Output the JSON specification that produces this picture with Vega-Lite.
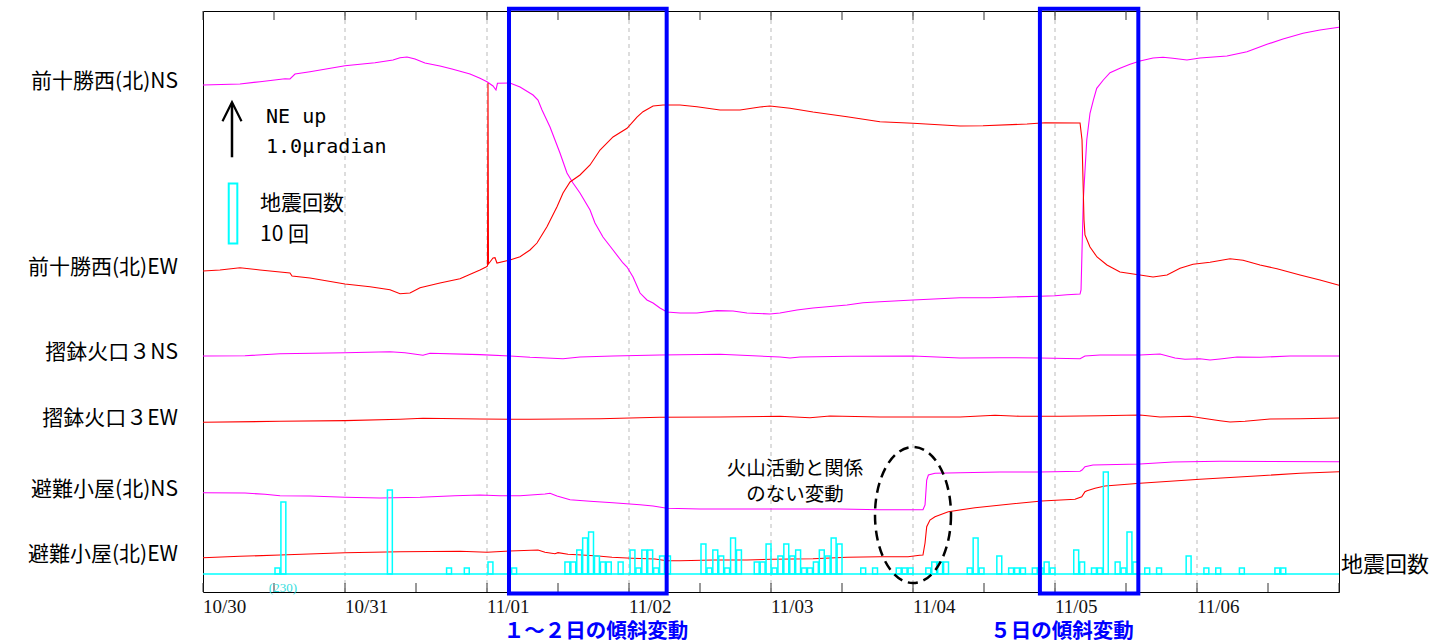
{
  "$schema": "https://vega.github.io/schema/vega-lite/v6.json",
  "width": 1136,
  "height": 581,
  "autosize": {"type": "none"},
  "padding": {"left": 203, "top": 11, "right": 106, "bottom": 52},
  "background": "white",
  "config": {
    "font": "Noto Sans CJK JP",
    "view": {"stroke": "black", "strokeWidth": 1, "fill": "white"}
  },
  "data": {"values": [{}]},
  "datasets": {
    "tilt": [
      {"s": "前十勝西(北)NS", "t": "2020-10-30T00:00", "v": 9.218},
      {"s": "前十勝西(北)NS", "t": "2020-10-30T06:15", "v": 9.236},
      {"s": "前十勝西(北)NS", "t": "2020-10-30T09:38", "v": 9.278},
      {"s": "前十勝西(北)NS", "t": "2020-10-30T13:52", "v": 9.333},
      {"s": "前十勝西(北)NS", "t": "2020-10-30T14:42", "v": 9.327},
      {"s": "前十勝西(北)NS", "t": "2020-10-30T15:33", "v": 9.418},
      {"s": "前十勝西(北)NS", "t": "2020-10-30T18:05", "v": 9.460},
      {"s": "前十勝西(北)NS", "t": "2020-10-31T00:00", "v": 9.569},
      {"s": "前十勝西(北)NS", "t": "2020-10-31T05:04", "v": 9.624},
      {"s": "前十勝西(北)NS", "t": "2020-10-31T08:07", "v": 9.673},
      {"s": "前十勝西(北)NS", "t": "2020-10-31T09:18", "v": 9.715},
      {"s": "前十勝西(北)NS", "t": "2020-10-31T10:29", "v": 9.727},
      {"s": "前十勝西(北)NS", "t": "2020-10-31T11:50", "v": 9.691},
      {"s": "前十勝西(北)NS", "t": "2020-10-31T13:31", "v": 9.618},
      {"s": "前十勝西(北)NS", "t": "2020-10-31T16:03", "v": 9.564},
      {"s": "前十勝西(北)NS", "t": "2020-10-31T18:05", "v": 9.509},
      {"s": "前十勝西(北)NS", "t": "2020-10-31T21:08", "v": 9.418},
      {"s": "前十勝西(北)NS", "t": "2020-10-31T22:49", "v": 9.340},
      {"s": "前十勝西(北)NS", "t": "2020-11-01T00:00", "v": 9.278},
      {"s": "前十勝西(北)NS", "t": "2020-11-01T01:01", "v": 9.200},
      {"s": "前十勝西(北)NS", "t": "2020-11-01T01:31", "v": 9.127},
      {"s": "前十勝西(北)NS", "t": "2020-11-01T01:46", "v": 9.249},
      {"s": "前十勝西(北)NS", "t": "2020-11-01T03:53", "v": 9.255},
      {"s": "前十勝西(北)NS", "t": "2020-11-01T05:35", "v": 9.182},
      {"s": "前十勝西(北)NS", "t": "2020-11-01T07:47", "v": 9.036},
      {"s": "前十勝西(北)NS", "t": "2020-11-01T08:37", "v": 8.945},
      {"s": "前十勝西(北)NS", "t": "2020-11-01T09:18", "v": 8.764},
      {"s": "前十勝西(北)NS", "t": "2020-11-01T10:39", "v": 8.455},
      {"s": "前十勝西(北)NS", "t": "2020-11-01T12:20", "v": 7.982},
      {"s": "前十勝西(北)NS", "t": "2020-11-01T13:31", "v": 7.618},
      {"s": "前十勝西(北)NS", "t": "2020-11-01T14:32", "v": 7.436},
      {"s": "前十勝西(北)NS", "t": "2020-11-01T15:43", "v": 7.255},
      {"s": "前十勝西(北)NS", "t": "2020-11-01T17:25", "v": 6.945},
      {"s": "前十勝西(北)NS", "t": "2020-11-01T18:15", "v": 6.709},
      {"s": "前十勝西(北)NS", "t": "2020-11-01T19:36", "v": 6.455},
      {"s": "前十勝西(北)NS", "t": "2020-11-01T21:18", "v": 6.218},
      {"s": "前十勝西(北)NS", "t": "2020-11-01T22:59", "v": 5.982},
      {"s": "前十勝西(北)NS", "t": "2020-11-01T23:40", "v": 5.909},
      {"s": "前十勝西(北)NS", "t": "2020-11-02T00:41", "v": 5.727},
      {"s": "前十勝西(北)NS", "t": "2020-11-02T01:52", "v": 5.436},
      {"s": "前十勝西(北)NS", "t": "2020-11-02T03:02", "v": 5.309},
      {"s": "前十勝西(北)NS", "t": "2020-11-02T04:04", "v": 5.255},
      {"s": "前十勝西(北)NS", "t": "2020-11-02T05:14", "v": 5.164},
      {"s": "前十勝西(北)NS", "t": "2020-11-02T06:25", "v": 5.091},
      {"s": "前十勝西(北)NS", "t": "2020-11-02T08:37", "v": 5.073},
      {"s": "前十勝西(北)NS", "t": "2020-11-02T11:29", "v": 5.073},
      {"s": "前十勝西(北)NS", "t": "2020-11-02T14:52", "v": 5.115},
      {"s": "前十勝西(北)NS", "t": "2020-11-02T17:35", "v": 5.109},
      {"s": "前十勝西(北)NS", "t": "2020-11-02T19:56", "v": 5.073},
      {"s": "前十勝西(北)NS", "t": "2020-11-02T23:50", "v": 5.055},
      {"s": "前十勝西(北)NS", "t": "2020-11-03T01:31", "v": 5.073},
      {"s": "前十勝西(北)NS", "t": "2020-11-03T04:23", "v": 5.127},
      {"s": "前十勝西(北)NS", "t": "2020-11-03T07:06", "v": 5.164},
      {"s": "前十勝西(北)NS", "t": "2020-11-03T12:51", "v": 5.218},
      {"s": "前十勝西(北)NS", "t": "2020-11-03T15:33", "v": 5.260},
      {"s": "前十勝西(北)NS", "t": "2020-11-03T18:25", "v": 5.278},
      {"s": "前十勝西(北)NS", "t": "2020-11-04T00:00", "v": 5.309},
      {"s": "前十勝西(北)NS", "t": "2020-11-04T07:57", "v": 5.351},
      {"s": "前十勝西(北)NS", "t": "2020-11-04T13:01", "v": 5.351},
      {"s": "前十勝西(北)NS", "t": "2020-11-04T16:24", "v": 5.364},
      {"s": "前十勝西(北)NS", "t": "2020-11-04T21:28", "v": 5.376},
      {"s": "前十勝西(北)NS", "t": "2020-11-05T00:00", "v": 5.387},
      {"s": "前十勝西(北)NS", "t": "2020-11-05T02:02", "v": 5.405},
      {"s": "前十勝西(北)NS", "t": "2020-11-05T04:14", "v": 5.418},
      {"s": "前十勝西(北)NS", "t": "2020-11-05T04:24", "v": 5.491},
      {"s": "前十勝西(北)NS", "t": "2020-11-05T04:47", "v": 7.127},
      {"s": "前十勝西(北)NS", "t": "2020-11-05T05:22", "v": 8.218},
      {"s": "前十勝西(北)NS", "t": "2020-11-05T05:55", "v": 8.704},
      {"s": "前十勝西(北)NS", "t": "2020-11-05T06:29", "v": 8.945},
      {"s": "前十勝西(北)NS", "t": "2020-11-05T07:03", "v": 9.158},
      {"s": "前十勝西(北)NS", "t": "2020-11-05T08:10", "v": 9.309},
      {"s": "前十勝西(北)NS", "t": "2020-11-05T09:18", "v": 9.442},
      {"s": "前十勝西(北)NS", "t": "2020-11-05T10:59", "v": 9.522},
      {"s": "前十勝西(北)NS", "t": "2020-11-05T12:41", "v": 9.595},
      {"s": "前十勝西(北)NS", "t": "2020-11-05T14:22", "v": 9.655},
      {"s": "前十勝西(北)NS", "t": "2020-11-05T16:34", "v": 9.709},
      {"s": "前十勝西(北)NS", "t": "2020-11-05T18:15", "v": 9.722},
      {"s": "前十勝西(北)NS", "t": "2020-11-05T19:56", "v": 9.704},
      {"s": "前十勝西(北)NS", "t": "2020-11-05T22:18", "v": 9.673},
      {"s": "前十勝西(北)NS", "t": "2020-11-06T00:30", "v": 9.709},
      {"s": "前十勝西(北)NS", "t": "2020-11-06T05:04", "v": 9.745},
      {"s": "前十勝西(北)NS", "t": "2020-11-06T08:27", "v": 9.824},
      {"s": "前十勝西(北)NS", "t": "2020-11-06T11:50", "v": 9.958},
      {"s": "前十勝西(北)NS", "t": "2020-11-06T14:32", "v": 10.055},
      {"s": "前十勝西(北)NS", "t": "2020-11-06T17:55", "v": 10.158},
      {"s": "前十勝西(北)NS", "t": "2020-11-06T20:47", "v": 10.218},
      {"s": "前十勝西(北)NS", "t": "2020-11-07T00:00", "v": 10.267},

      {"s": "前十勝西(北)EW", "t": "2020-10-30T00:00", "v": 5.836},
      {"s": "前十勝西(北)EW", "t": "2020-10-30T02:52", "v": 5.855},
      {"s": "前十勝西(北)EW", "t": "2020-10-30T06:15", "v": 5.896},
      {"s": "前十勝西(北)EW", "t": "2020-10-30T09:38", "v": 5.855},
      {"s": "前十勝西(北)EW", "t": "2020-10-30T14:42", "v": 5.800},
      {"s": "前十勝西(北)EW", "t": "2020-10-30T15:03", "v": 5.745},
      {"s": "前十勝西(北)EW", "t": "2020-10-30T18:05", "v": 5.709},
      {"s": "前十勝西(北)EW", "t": "2020-10-31T00:00", "v": 5.600},
      {"s": "前十勝西(北)EW", "t": "2020-10-31T04:14", "v": 5.551},
      {"s": "前十勝西(北)EW", "t": "2020-10-31T07:36", "v": 5.496},
      {"s": "前十勝西(北)EW", "t": "2020-10-31T09:18", "v": 5.424},
      {"s": "前十勝西(北)EW", "t": "2020-10-31T10:59", "v": 5.436},
      {"s": "前十勝西(北)EW", "t": "2020-10-31T12:41", "v": 5.533},
      {"s": "前十勝西(北)EW", "t": "2020-10-31T16:03", "v": 5.618},
      {"s": "前十勝西(北)EW", "t": "2020-10-31T19:26", "v": 5.696},
      {"s": "前十勝西(北)EW", "t": "2020-10-31T22:49", "v": 5.855},
      {"s": "前十勝西(北)EW", "t": "2020-10-31T23:50", "v": 5.909},
      {"s": "前十勝西(北)EW", "t": "2020-11-01T00:05", "v": 5.927},
      {"s": "前十勝西(北)EW", "t": "2020-11-01T00:10", "v": 9.255},
      {"s": "前十勝西(北)EW", "t": "2020-11-01T00:15", "v": 5.964},
      {"s": "前十勝西(北)EW", "t": "2020-11-01T01:01", "v": 6.073},
      {"s": "前十勝西(北)EW", "t": "2020-11-01T01:21", "v": 6.078},
      {"s": "前十勝西(北)EW", "t": "2020-11-01T01:41", "v": 5.982},
      {"s": "前十勝西(北)EW", "t": "2020-11-01T03:53", "v": 6.036},
      {"s": "前十勝西(北)EW", "t": "2020-11-01T05:35", "v": 6.096},
      {"s": "前十勝西(北)EW", "t": "2020-11-01T07:16", "v": 6.218},
      {"s": "前十勝西(北)EW", "t": "2020-11-01T08:27", "v": 6.345},
      {"s": "前十勝西(北)EW", "t": "2020-11-01T10:08", "v": 6.642},
      {"s": "前十勝西(北)EW", "t": "2020-11-01T11:50", "v": 7.005},
      {"s": "前十勝西(北)EW", "t": "2020-11-01T12:51", "v": 7.255},
      {"s": "前十勝西(北)EW", "t": "2020-11-01T14:02", "v": 7.455},
      {"s": "前十勝西(北)EW", "t": "2020-11-01T15:43", "v": 7.582},
      {"s": "前十勝西(北)EW", "t": "2020-11-01T17:25", "v": 7.764},
      {"s": "前十勝西(北)EW", "t": "2020-11-01T19:06", "v": 8.036},
      {"s": "前十勝西(北)EW", "t": "2020-11-01T21:18", "v": 8.273},
      {"s": "前十勝西(北)EW", "t": "2020-11-01T23:40", "v": 8.431},
      {"s": "前十勝西(北)EW", "t": "2020-11-02T01:21", "v": 8.636},
      {"s": "前十勝西(北)EW", "t": "2020-11-02T02:22", "v": 8.733},
      {"s": "前十勝西(北)EW", "t": "2020-11-02T04:04", "v": 8.836},
      {"s": "前十勝西(北)EW", "t": "2020-11-02T05:45", "v": 8.855},
      {"s": "前十勝西(北)EW", "t": "2020-11-02T08:37", "v": 8.855},
      {"s": "前十勝西(北)EW", "t": "2020-11-02T11:29", "v": 8.824},
      {"s": "前十勝西(北)EW", "t": "2020-11-02T15:23", "v": 8.764},
      {"s": "前十勝西(北)EW", "t": "2020-11-02T18:46", "v": 8.764},
      {"s": "前十勝西(北)EW", "t": "2020-11-02T22:08", "v": 8.818},
      {"s": "前十勝西(北)EW", "t": "2020-11-02T23:50", "v": 8.836},
      {"s": "前十勝西(北)EW", "t": "2020-11-03T03:13", "v": 8.795},
      {"s": "前十勝西(北)EW", "t": "2020-11-03T07:06", "v": 8.727},
      {"s": "前十勝西(北)EW", "t": "2020-11-03T12:51", "v": 8.642},
      {"s": "前十勝西(北)EW", "t": "2020-11-03T18:25", "v": 8.551},
      {"s": "前十勝西(北)EW", "t": "2020-11-04T00:00", "v": 8.522},
      {"s": "前十勝西(北)EW", "t": "2020-11-04T07:57", "v": 8.473},
      {"s": "前十勝西(北)EW", "t": "2020-11-04T11:50", "v": 8.478},
      {"s": "前十勝西(北)EW", "t": "2020-11-04T19:16", "v": 8.509},
      {"s": "前十勝西(北)EW", "t": "2020-11-04T22:18", "v": 8.533},
      {"s": "前十勝西(北)EW", "t": "2020-11-05T04:14", "v": 8.527},
      {"s": "前十勝西(北)EW", "t": "2020-11-05T04:34", "v": 8.218},
      {"s": "前十勝西(北)EW", "t": "2020-11-05T04:44", "v": 7.491},
      {"s": "前十勝西(北)EW", "t": "2020-11-05T04:54", "v": 6.764},
      {"s": "前十勝西(北)EW", "t": "2020-11-05T05:04", "v": 6.491},
      {"s": "前十勝西(北)EW", "t": "2020-11-05T05:55", "v": 6.273},
      {"s": "前十勝西(北)EW", "t": "2020-11-05T07:06", "v": 6.091},
      {"s": "前十勝西(北)EW", "t": "2020-11-05T08:47", "v": 5.945},
      {"s": "前十勝西(北)EW", "t": "2020-11-05T10:59", "v": 5.818},
      {"s": "前十勝西(北)EW", "t": "2020-11-05T14:22", "v": 5.764},
      {"s": "前十勝西(北)EW", "t": "2020-11-05T16:34", "v": 5.727},
      {"s": "前十勝西(北)EW", "t": "2020-11-05T18:56", "v": 5.764},
      {"s": "前十勝西(北)EW", "t": "2020-11-05T21:08", "v": 5.885},
      {"s": "前十勝西(北)EW", "t": "2020-11-05T23:20", "v": 5.958},
      {"s": "前十勝西(北)EW", "t": "2020-11-06T02:12", "v": 5.995},
      {"s": "前十勝西(北)EW", "t": "2020-11-06T05:35", "v": 6.060},
      {"s": "前十勝西(北)EW", "t": "2020-11-06T07:47", "v": 6.031},
      {"s": "前十勝西(北)EW", "t": "2020-11-06T10:39", "v": 5.945},
      {"s": "前十勝西(北)EW", "t": "2020-11-06T13:31", "v": 5.878},
      {"s": "前十勝西(北)EW", "t": "2020-11-06T17:25", "v": 5.764},
      {"s": "前十勝西(北)EW", "t": "2020-11-06T20:47", "v": 5.673},
      {"s": "前十勝西(北)EW", "t": "2020-11-07T00:00", "v": 5.576},

      {"s": "摺鉢火口３NS", "t": "2020-10-30T00:00", "v": 4.291},
      {"s": "摺鉢火口３NS", "t": "2020-10-30T07:06", "v": 4.296},
      {"s": "摺鉢火口３NS", "t": "2020-10-30T13:01", "v": 4.333},
      {"s": "摺鉢火口３NS", "t": "2020-10-31T00:00", "v": 4.351},
      {"s": "摺鉢火口３NS", "t": "2020-10-31T07:36", "v": 4.369},
      {"s": "摺鉢火口３NS", "t": "2020-10-31T10:08", "v": 4.351},
      {"s": "摺鉢火口３NS", "t": "2020-10-31T13:11", "v": 4.304},
      {"s": "摺鉢火口３NS", "t": "2020-10-31T14:22", "v": 4.340},
      {"s": "摺鉢火口３NS", "t": "2020-10-31T22:49", "v": 4.315},
      {"s": "摺鉢火口３NS", "t": "2020-11-01T03:53", "v": 4.291},
      {"s": "摺鉢火口３NS", "t": "2020-11-01T07:16", "v": 4.267},
      {"s": "摺鉢火口３NS", "t": "2020-11-01T12:51", "v": 4.242},
      {"s": "摺鉢火口３NS", "t": "2020-11-01T15:43", "v": 4.273},
      {"s": "摺鉢火口３NS", "t": "2020-11-01T21:18", "v": 4.291},
      {"s": "摺鉢火口３NS", "t": "2020-11-02T05:14", "v": 4.309},
      {"s": "摺鉢火口３NS", "t": "2020-11-02T15:23", "v": 4.322},
      {"s": "摺鉢火口３NS", "t": "2020-11-03T01:31", "v": 4.273},
      {"s": "摺鉢火口３NS", "t": "2020-11-03T03:13", "v": 4.255},
      {"s": "摺鉢火口３NS", "t": "2020-11-03T04:54", "v": 4.273},
      {"s": "摺鉢火口３NS", "t": "2020-11-03T13:21", "v": 4.285},
      {"s": "摺鉢火口３NS", "t": "2020-11-04T00:00", "v": 4.291},
      {"s": "摺鉢火口３NS", "t": "2020-11-04T07:57", "v": 4.255},
      {"s": "摺鉢火口３NS", "t": "2020-11-04T14:42", "v": 4.260},
      {"s": "摺鉢火口３NS", "t": "2020-11-04T21:28", "v": 4.255},
      {"s": "摺鉢火口３NS", "t": "2020-11-05T04:14", "v": 4.242},
      {"s": "摺鉢火口３NS", "t": "2020-11-05T05:04", "v": 4.291},
      {"s": "摺鉢火口３NS", "t": "2020-11-05T07:36", "v": 4.309},
      {"s": "摺鉢火口３NS", "t": "2020-11-05T14:22", "v": 4.309},
      {"s": "摺鉢火口３NS", "t": "2020-11-05T17:45", "v": 4.327},
      {"s": "摺鉢火口３NS", "t": "2020-11-05T20:17", "v": 4.255},
      {"s": "摺鉢火口３NS", "t": "2020-11-05T21:58", "v": 4.231},
      {"s": "摺鉢火口３NS", "t": "2020-11-06T00:30", "v": 4.242},
      {"s": "摺鉢火口３NS", "t": "2020-11-06T02:12", "v": 4.218},
      {"s": "摺鉢火口３NS", "t": "2020-11-06T03:53", "v": 4.236},
      {"s": "摺鉢火口３NS", "t": "2020-11-06T06:46", "v": 4.273},
      {"s": "摺鉢火口３NS", "t": "2020-11-06T10:39", "v": 4.267},
      {"s": "摺鉢火口３NS", "t": "2020-11-06T15:43", "v": 4.291},
      {"s": "摺鉢火口３NS", "t": "2020-11-07T00:00", "v": 4.291},

      {"s": "摺鉢火口３EW", "t": "2020-10-30T00:00", "v": 3.085},
      {"s": "摺鉢火口３EW", "t": "2020-10-30T13:01", "v": 3.104},
      {"s": "摺鉢火口３EW", "t": "2020-10-31T00:00", "v": 3.115},
      {"s": "摺鉢火口３EW", "t": "2020-10-31T09:18", "v": 3.140},
      {"s": "摺鉢火口３EW", "t": "2020-10-31T13:11", "v": 3.158},
      {"s": "摺鉢火口３EW", "t": "2020-10-31T22:49", "v": 3.145},
      {"s": "摺鉢火口３EW", "t": "2020-11-01T07:16", "v": 3.140},
      {"s": "摺鉢火口３EW", "t": "2020-11-01T19:06", "v": 3.151},
      {"s": "摺鉢火口３EW", "t": "2020-11-02T05:14", "v": 3.176},
      {"s": "摺鉢火口３EW", "t": "2020-11-02T15:23", "v": 3.182},
      {"s": "摺鉢火口３EW", "t": "2020-11-03T01:31", "v": 3.195},
      {"s": "摺鉢火口３EW", "t": "2020-11-03T06:35", "v": 3.169},
      {"s": "摺鉢火口３EW", "t": "2020-11-03T09:58", "v": 3.200},
      {"s": "摺鉢火口３EW", "t": "2020-11-03T18:25", "v": 3.182},
      {"s": "摺鉢火口３EW", "t": "2020-11-04T07:57", "v": 3.182},
      {"s": "摺鉢火口３EW", "t": "2020-11-04T13:52", "v": 3.213},
      {"s": "摺鉢火口３EW", "t": "2020-11-04T18:05", "v": 3.195},
      {"s": "摺鉢火口３EW", "t": "2020-11-05T00:51", "v": 3.195},
      {"s": "摺鉢火口３EW", "t": "2020-11-05T07:36", "v": 3.205},
      {"s": "摺鉢火口３EW", "t": "2020-11-05T14:22", "v": 3.218},
      {"s": "摺鉢火口３EW", "t": "2020-11-05T17:45", "v": 3.182},
      {"s": "摺鉢火口３EW", "t": "2020-11-05T22:49", "v": 3.195},
      {"s": "摺鉢火口３EW", "t": "2020-11-06T01:01", "v": 3.158},
      {"s": "摺鉢火口３EW", "t": "2020-11-06T03:53", "v": 3.115},
      {"s": "摺鉢火口３EW", "t": "2020-11-06T05:35", "v": 3.091},
      {"s": "摺鉢火口３EW", "t": "2020-11-06T08:07", "v": 3.104},
      {"s": "摺鉢火口３EW", "t": "2020-11-06T12:20", "v": 3.145},
      {"s": "摺鉢火口３EW", "t": "2020-11-06T17:25", "v": 3.151},
      {"s": "摺鉢火口３EW", "t": "2020-11-07T00:00", "v": 3.164},

      {"s": "避難小屋(北)NS", "t": "2020-10-30T00:00", "v": 1.805},
      {"s": "避難小屋(北)NS", "t": "2020-10-30T07:06", "v": 1.800},
      {"s": "避難小屋(北)NS", "t": "2020-10-30T10:29", "v": 1.776},
      {"s": "避難小屋(北)NS", "t": "2020-10-30T13:01", "v": 1.751},
      {"s": "避難小屋(北)NS", "t": "2020-10-30T18:05", "v": 1.745},
      {"s": "避難小屋(北)NS", "t": "2020-10-31T00:00", "v": 1.722},
      {"s": "避難小屋(北)NS", "t": "2020-10-31T05:55", "v": 1.709},
      {"s": "避難小屋(北)NS", "t": "2020-10-31T12:41", "v": 1.722},
      {"s": "避難小屋(北)NS", "t": "2020-10-31T18:35", "v": 1.751},
      {"s": "避難小屋(北)NS", "t": "2020-10-31T22:49", "v": 1.764},
      {"s": "避難小屋(北)NS", "t": "2020-11-01T02:12", "v": 1.751},
      {"s": "避難小屋(北)NS", "t": "2020-11-01T05:35", "v": 1.751},
      {"s": "避難小屋(北)NS", "t": "2020-11-01T09:48", "v": 1.782},
      {"s": "避難小屋(北)NS", "t": "2020-11-01T10:39", "v": 1.795},
      {"s": "避難小屋(北)NS", "t": "2020-11-01T11:50", "v": 1.745},
      {"s": "避難小屋(北)NS", "t": "2020-11-01T14:02", "v": 1.678},
      {"s": "避難小屋(北)NS", "t": "2020-11-01T17:25", "v": 1.649},
      {"s": "避難小屋(北)NS", "t": "2020-11-01T21:18", "v": 1.624},
      {"s": "避難小屋(北)NS", "t": "2020-11-02T01:52", "v": 1.587},
      {"s": "避難小屋(北)NS", "t": "2020-11-02T04:04", "v": 1.564},
      {"s": "避難小屋(北)NS", "t": "2020-11-02T06:25", "v": 1.522},
      {"s": "避難小屋(北)NS", "t": "2020-11-02T12:00", "v": 1.509},
      {"s": "避難小屋(北)NS", "t": "2020-11-02T22:08", "v": 1.509},
      {"s": "避難小屋(北)NS", "t": "2020-11-03T11:40", "v": 1.509},
      {"s": "避難小屋(北)NS", "t": "2020-11-03T18:25", "v": 1.496},
      {"s": "避難小屋(北)NS", "t": "2020-11-04T01:41", "v": 1.496},
      {"s": "避難小屋(北)NS", "t": "2020-11-04T02:02", "v": 1.582},
      {"s": "避難小屋(北)NS", "t": "2020-11-04T02:19", "v": 2.036},
      {"s": "避難小屋(北)NS", "t": "2020-11-04T02:36", "v": 2.127},
      {"s": "避難小屋(北)NS", "t": "2020-11-04T03:43", "v": 2.158},
      {"s": "避難小屋(北)NS", "t": "2020-11-04T07:57", "v": 2.169},
      {"s": "避難小屋(北)NS", "t": "2020-11-04T14:42", "v": 2.182},
      {"s": "避難小屋(北)NS", "t": "2020-11-04T21:28", "v": 2.182},
      {"s": "避難小屋(北)NS", "t": "2020-11-05T04:14", "v": 2.195},
      {"s": "避難小屋(北)NS", "t": "2020-11-05T04:34", "v": 2.218},
      {"s": "避難小屋(北)NS", "t": "2020-11-05T05:04", "v": 2.278},
      {"s": "避難小屋(北)NS", "t": "2020-11-05T06:25", "v": 2.309},
      {"s": "避難小屋(北)NS", "t": "2020-11-05T14:22", "v": 2.327},
      {"s": "避難小屋(北)NS", "t": "2020-11-05T19:56", "v": 2.364},
      {"s": "避難小屋(北)NS", "t": "2020-11-06T03:53", "v": 2.376},
      {"s": "避難小屋(北)NS", "t": "2020-11-07T00:00", "v": 2.369},

      {"s": "避難小屋(北)EW", "t": "2020-10-30T00:00", "v": 0.624},
      {"s": "避難小屋(北)EW", "t": "2020-10-30T06:15", "v": 0.649},
      {"s": "避難小屋(北)EW", "t": "2020-10-30T13:01", "v": 0.673},
      {"s": "避難小屋(北)EW", "t": "2020-10-31T00:00", "v": 0.715},
      {"s": "避難小屋(北)EW", "t": "2020-10-31T09:18", "v": 0.733},
      {"s": "避難小屋(北)EW", "t": "2020-10-31T19:26", "v": 0.740},
      {"s": "避難小屋(北)EW", "t": "2020-11-01T00:00", "v": 0.722},
      {"s": "避難小屋(北)EW", "t": "2020-11-01T03:53", "v": 0.745},
      {"s": "避難小屋(北)EW", "t": "2020-11-01T08:37", "v": 0.764},
      {"s": "避難小屋(北)EW", "t": "2020-11-01T09:48", "v": 0.722},
      {"s": "避難小屋(北)EW", "t": "2020-11-01T11:29", "v": 0.696},
      {"s": "避難小屋(北)EW", "t": "2020-11-01T12:00", "v": 0.715},
      {"s": "避難小屋(北)EW", "t": "2020-11-01T13:41", "v": 0.685},
      {"s": "避難小屋(北)EW", "t": "2020-11-01T16:03", "v": 0.673},
      {"s": "避難小屋(北)EW", "t": "2020-11-01T18:46", "v": 0.655},
      {"s": "避難小屋(北)EW", "t": "2020-11-01T21:08", "v": 0.631},
      {"s": "避難小屋(北)EW", "t": "2020-11-02T00:30", "v": 0.613},
      {"s": "避難小屋(北)EW", "t": "2020-11-02T04:24", "v": 0.600},
      {"s": "避難小屋(北)EW", "t": "2020-11-02T06:25", "v": 0.569},
      {"s": "避難小屋(北)EW", "t": "2020-11-02T08:37", "v": 0.569},
      {"s": "避難小屋(北)EW", "t": "2020-11-02T14:12", "v": 0.582},
      {"s": "避難小屋(北)EW", "t": "2020-11-02T19:56", "v": 0.582},
      {"s": "避難小屋(北)EW", "t": "2020-11-03T00:10", "v": 0.595},
      {"s": "避難小屋(北)EW", "t": "2020-11-03T07:06", "v": 0.605},
      {"s": "避難小屋(北)EW", "t": "2020-11-03T12:51", "v": 0.631},
      {"s": "避難小屋(北)EW", "t": "2020-11-03T18:25", "v": 0.642},
      {"s": "避難小屋(北)EW", "t": "2020-11-03T23:10", "v": 0.642},
      {"s": "避難小屋(北)EW", "t": "2020-11-04T01:08", "v": 0.667},
      {"s": "避難小屋(北)EW", "t": "2020-11-04T01:41", "v": 0.673},
      {"s": "避難小屋(北)EW", "t": "2020-11-04T02:02", "v": 0.891},
      {"s": "避難小屋(北)EW", "t": "2020-11-04T02:19", "v": 1.187},
      {"s": "避難小屋(北)EW", "t": "2020-11-04T02:52", "v": 1.309},
      {"s": "避難小屋(北)EW", "t": "2020-11-04T03:43", "v": 1.369},
      {"s": "避難小屋(北)EW", "t": "2020-11-04T05:58", "v": 1.460},
      {"s": "避難小屋(北)EW", "t": "2020-11-04T10:29", "v": 1.533},
      {"s": "避難小屋(北)EW", "t": "2020-11-04T16:07", "v": 1.595},
      {"s": "避難小屋(北)EW", "t": "2020-11-04T21:45", "v": 1.655},
      {"s": "避難小屋(北)EW", "t": "2020-11-05T03:23", "v": 1.685},
      {"s": "避難小屋(北)EW", "t": "2020-11-05T04:31", "v": 1.733},
      {"s": "避難小屋(北)EW", "t": "2020-11-05T05:04", "v": 1.824},
      {"s": "避難小屋(北)EW", "t": "2020-11-05T05:25", "v": 1.842},
      {"s": "避難小屋(北)EW", "t": "2020-11-05T06:46", "v": 1.885},
      {"s": "避難小屋(北)EW", "t": "2020-11-05T08:27", "v": 1.927},
      {"s": "避難小屋(北)EW", "t": "2020-11-05T14:22", "v": 1.976},
      {"s": "避難小屋(北)EW", "t": "2020-11-06T00:30", "v": 2.049},
      {"s": "避難小屋(北)EW", "t": "2020-11-06T10:39", "v": 2.115},
      {"s": "避難小屋(北)EW", "t": "2020-11-06T17:25", "v": 2.158},
      {"s": "避難小屋(北)EW", "t": "2020-11-07T00:00", "v": 2.187}
    ],
    "quakes": [
      {"t": "2020-10-30T12:00", "n": 1},
      {"t": "2020-10-30T13:00", "n": 230},
      {"t": "2020-10-31T07:00", "n": 14},
      {"t": "2020-10-31T17:00", "n": 1},
      {"t": "2020-10-31T20:00", "n": 1},
      {"t": "2020-11-01T00:00", "n": 2},
      {"t": "2020-11-01T04:00", "n": 1},
      {"t": "2020-11-01T13:00", "n": 2},
      {"t": "2020-11-01T14:00", "n": 2},
      {"t": "2020-11-01T15:00", "n": 4},
      {"t": "2020-11-01T16:00", "n": 6},
      {"t": "2020-11-01T17:00", "n": 7},
      {"t": "2020-11-01T18:00", "n": 3},
      {"t": "2020-11-01T19:00", "n": 2},
      {"t": "2020-11-01T20:00", "n": 2},
      {"t": "2020-11-01T22:00", "n": 2},
      {"t": "2020-11-02T00:00", "n": 4},
      {"t": "2020-11-02T01:00", "n": 1},
      {"t": "2020-11-02T02:00", "n": 4},
      {"t": "2020-11-02T03:00", "n": 4},
      {"t": "2020-11-02T04:00", "n": 1},
      {"t": "2020-11-02T05:00", "n": 3},
      {"t": "2020-11-02T06:00", "n": 3},
      {"t": "2020-11-02T12:00", "n": 5},
      {"t": "2020-11-02T13:00", "n": 1},
      {"t": "2020-11-02T14:00", "n": 4},
      {"t": "2020-11-02T15:00", "n": 3},
      {"t": "2020-11-02T16:00", "n": 1},
      {"t": "2020-11-02T17:00", "n": 6},
      {"t": "2020-11-02T18:00", "n": 4},
      {"t": "2020-11-02T21:00", "n": 2},
      {"t": "2020-11-02T22:00", "n": 2},
      {"t": "2020-11-02T23:00", "n": 5},
      {"t": "2020-11-03T00:00", "n": 1},
      {"t": "2020-11-03T01:00", "n": 3},
      {"t": "2020-11-03T02:00", "n": 5},
      {"t": "2020-11-03T03:00", "n": 3},
      {"t": "2020-11-03T04:00", "n": 4},
      {"t": "2020-11-03T05:00", "n": 1},
      {"t": "2020-11-03T06:00", "n": 1},
      {"t": "2020-11-03T07:00", "n": 2},
      {"t": "2020-11-03T08:00", "n": 4},
      {"t": "2020-11-03T09:00", "n": 3},
      {"t": "2020-11-03T10:00", "n": 6},
      {"t": "2020-11-03T11:00", "n": 5},
      {"t": "2020-11-03T15:00", "n": 1},
      {"t": "2020-11-03T17:00", "n": 1},
      {"t": "2020-11-03T21:00", "n": 1},
      {"t": "2020-11-03T22:00", "n": 1},
      {"t": "2020-11-03T23:00", "n": 1},
      {"t": "2020-11-04T02:00", "n": 1},
      {"t": "2020-11-04T03:00", "n": 2},
      {"t": "2020-11-04T04:00", "n": 2},
      {"t": "2020-11-04T05:00", "n": 2},
      {"t": "2020-11-04T09:00", "n": 1},
      {"t": "2020-11-04T10:00", "n": 6},
      {"t": "2020-11-04T11:00", "n": 1},
      {"t": "2020-11-04T14:00", "n": 3},
      {"t": "2020-11-04T16:00", "n": 1},
      {"t": "2020-11-04T17:00", "n": 1},
      {"t": "2020-11-04T18:00", "n": 1},
      {"t": "2020-11-04T20:00", "n": 1},
      {"t": "2020-11-04T21:00", "n": 1},
      {"t": "2020-11-04T22:00", "n": 2},
      {"t": "2020-11-04T23:00", "n": 1},
      {"t": "2020-11-05T03:00", "n": 4},
      {"t": "2020-11-05T04:00", "n": 2},
      {"t": "2020-11-05T06:00", "n": 1},
      {"t": "2020-11-05T07:00", "n": 1},
      {"t": "2020-11-05T08:00", "n": 17},
      {"t": "2020-11-05T10:00", "n": 2},
      {"t": "2020-11-05T11:00", "n": 1},
      {"t": "2020-11-05T12:00", "n": 7},
      {"t": "2020-11-05T13:00", "n": 2},
      {"t": "2020-11-05T15:00", "n": 1},
      {"t": "2020-11-05T17:00", "n": 1},
      {"t": "2020-11-05T22:00", "n": 3},
      {"t": "2020-11-06T01:00", "n": 1},
      {"t": "2020-11-06T03:00", "n": 1},
      {"t": "2020-11-06T07:00", "n": 1},
      {"t": "2020-11-06T13:00", "n": 1},
      {"t": "2020-11-06T14:00", "n": 1}
    ],
    "ticks": [
      {"t": "2020-10-30T00:00"}, {"t": "2020-10-30T12:00"},
      {"t": "2020-10-31T00:00"}, {"t": "2020-10-31T12:00"},
      {"t": "2020-11-01T00:00"}, {"t": "2020-11-01T12:00"},
      {"t": "2020-11-02T00:00"}, {"t": "2020-11-02T12:00"},
      {"t": "2020-11-03T00:00"}, {"t": "2020-11-03T12:00"},
      {"t": "2020-11-04T00:00"}, {"t": "2020-11-04T12:00"},
      {"t": "2020-11-05T00:00"}, {"t": "2020-11-05T12:00"},
      {"t": "2020-11-06T00:00"}, {"t": "2020-11-06T12:00"},
      {"t": "2020-11-07T00:00"}
    ],
    "days": [
      {"t": "2020-10-30T00:00", "label": "10/30"},
      {"t": "2020-10-31T00:00", "label": "10/31"},
      {"t": "2020-11-01T00:00", "label": "11/01"},
      {"t": "2020-11-02T00:00", "label": "11/02"},
      {"t": "2020-11-03T00:00", "label": "11/03"},
      {"t": "2020-11-04T00:00", "label": "11/04"},
      {"t": "2020-11-05T00:00", "label": "11/05"},
      {"t": "2020-11-06T00:00", "label": "11/06"}
    ]
  },
  "resolve": {"scale": {"y": "independent"}},
  "layer": [
    {
      "data": {"name": "days"},
      "transform": [{"filter": "datum.label != '10/30'"}],
      "mark": {"type": "rule", "color": "#bbbbbb", "strokeWidth": 1, "strokeDash": [4, 4]},
      "encoding": {
        "x": {"field": "t", "type": "temporal", "axis": null},
        "y": {"datum": 0, "scale": {"domain": [0, 10.5636], "nice": false, "zero": false}, "axis": null},
        "y2": {"datum": 10.5636}
      }
    },
    {
      "data": {"name": "tilt"},
      "mark": {"type": "line", "strokeWidth": 1.1},
      "encoding": {
        "x": {"field": "t", "type": "temporal", "scale": {"nice": false}, "axis": null},
        "y": {"field": "v", "type": "quantitative", "scale": {"domain": [0, 10.5636], "nice": false, "zero": false}, "axis": null},
        "color": {
          "field": "s", "type": "nominal", "legend": null,
          "scale": {
            "domain": ["前十勝西(北)NS", "前十勝西(北)EW", "摺鉢火口３NS", "摺鉢火口３EW", "避難小屋(北)NS", "避難小屋(北)EW"],
            "range": ["#ff00ff", "#ff0000", "#ff00ff", "#ff0000", "#ff00ff", "#ff0000"]
          }
        }
      }
    },
    {
      "data": {"name": "tilt"},
      "transform": [
        {"window": [{"op": "row_number", "as": "i"}], "groupby": ["s"]},
        {"filter": "datum.i == 1"}
      ],
      "mark": {"type": "text", "align": "right", "baseline": "middle", "dx": -25, "dy": -3, "font": "Noto Sans CJK JP", "fontSize": 21, "color": "#000000"},
      "encoding": {
        "x": {"field": "t", "type": "temporal", "axis": null},
        "y": {"field": "v", "type": "quantitative", "scale": {"domain": [0, 10.5636], "nice": false, "zero": false}, "axis": null},
        "text": {"field": "s"}
      }
    },
    {
      "data": {"name": "ticks"},
      "mark": {"type": "rule", "color": "#333333", "strokeWidth": 1},
      "encoding": {
        "x": {"field": "t", "type": "temporal", "axis": null},
        "y": {"datum": 0, "scale": {"domain": [0, 10.5636], "nice": false, "zero": false}, "axis": null},
        "y2": {"datum": 0.1636}
      }
    },
    {
      "data": {"name": "ticks"},
      "mark": {"type": "rule", "color": "#333333", "strokeWidth": 1},
      "encoding": {
        "x": {"field": "t", "type": "temporal", "axis": null},
        "y": {"datum": 10.4, "scale": {"domain": [0, 10.5636], "nice": false, "zero": false}, "axis": null},
        "y2": {"datum": 10.5636}
      }
    },
    {
      "data": {"name": "days"},
      "mark": {"type": "text", "align": "left", "baseline": "middle", "font": "Liberation Sans Narrow", "fontSize": 19, "color": "#111111"},
      "encoding": {
        "x": {"field": "t", "type": "temporal", "axis": null},
        "y": {"datum": -0.2727, "scale": {"domain": [0, 10.5636], "nice": false, "zero": false}, "axis": null},
        "text": {"field": "label"}
      }
    },
    {
      "mark": {"type": "rule", "color": "#00ffff", "strokeWidth": 1.5},
      "encoding": {
        "y": {"datum": 0, "scale": {"domain": [-3, 93.8333], "nice": false, "zero": false}, "axis": null}
      }
    },
    {
      "data": {"name": "quakes"},
      "transform": [{"filter": "datum.n <= 50"}],
      "mark": {"type": "bar", "filled": false, "stroke": "#00ffff", "strokeWidth": 1.5},
      "encoding": {
        "x": {"field": "t", "type": "temporal", "timeUnit": "yearmonthdatehours", "axis": null},
        "y": {"field": "n", "type": "quantitative", "scale": {"domain": [-3, 93.8333], "nice": false, "zero": false}, "axis": null},
        "y2": {"datum": 0}
      }
    },
    {
      "data": {"name": "quakes"},
      "transform": [{"filter": "datum.n > 50"}],
      "mark": {"type": "bar", "filled": false, "stroke": "#00ffff", "strokeWidth": 1.5},
      "encoding": {
        "x": {"field": "t", "type": "temporal", "timeUnit": "yearmonthdatehours", "axis": null},
        "y": {"datum": 12, "scale": {"domain": [-3, 93.8333], "nice": false, "zero": false}, "axis": null},
        "y2": {"datum": 0}
      }
    },
    {
      "data": {"name": "quakes"},
      "transform": [{"filter": "datum.n > 50"}, {"calculate": "'(' + datum.n + ')'", "as": "lab"}],
      "mark": {"type": "text", "align": "center", "baseline": "middle", "dx": 3, "font": "Liberation Sans Narrow", "fontSize": 13, "color": "#33dddd"},
      "encoding": {
        "x": {"field": "t", "type": "temporal", "axis": null},
        "y": {"datum": -2.25, "scale": {"domain": [-3, 93.8333], "nice": false, "zero": false}, "axis": null},
        "text": {"field": "lab"}
      }
    },
    {
      "data": {"values": [{"t": "2020-10-30T04:21", "t2": "2020-10-30T05:48"}], "format": {"parse": {"t": "date", "t2": "date"}}},
      "mark": {"type": "rect", "filled": false, "stroke": "#00ffff", "strokeWidth": 2},
      "encoding": {
        "x": {"field": "t", "type": "temporal", "axis": null},
        "x2": {"field": "t2"},
        "y": {"datum": 55.1, "scale": {"domain": [-3, 93.8333], "nice": false, "zero": false}, "axis": null},
        "y2": {"datum": 65.1}
      }
    },
    {
      "data": {"values": [{"t": "2020-10-30T09:38"}]},
      "mark": {"type": "text", "align": "left", "baseline": "middle", "font": "Noto Sans CJK JP", "fontSize": 21, "color": "#000000", "text": "地震回数"},
      "encoding": {
        "x": {"field": "t", "type": "temporal", "axis": null},
        "y": {"datum": 61.67, "scale": {"domain": [-3, 93.8333], "nice": false, "zero": false}, "axis": null}
      }
    },
    {
      "data": {"values": [{"t": "2020-10-30T09:38"}]},
      "mark": {"type": "text", "align": "left", "baseline": "middle", "font": "Noto Sans CJK JP", "fontSize": 21, "color": "#000000", "text": "10 回"},
      "encoding": {
        "x": {"field": "t", "type": "temporal", "axis": null},
        "y": {"datum": 56.5, "scale": {"domain": [-3, 93.8333], "nice": false, "zero": false}, "axis": null}
      }
    },
    {
      "data": {"values": [{"t": "2020-11-07T00:00"}]},
      "mark": {"type": "text", "align": "left", "baseline": "middle", "dx": 2, "font": "Noto Sans CJK JP", "fontSize": 22, "color": "#000000", "text": "地震回数"},
      "encoding": {
        "x": {"field": "t", "type": "temporal", "axis": null},
        "y": {"datum": 1.5, "scale": {"domain": [-3, 93.8333], "nice": false, "zero": false}, "axis": null}
      }
    },
    {
      "data": {"values": [{"t": "2020-10-30T04:54"}]},
      "mark": {"type": "rule", "color": "#000000", "strokeWidth": 2.5},
      "encoding": {
        "x": {"field": "t", "type": "temporal", "axis": null},
        "y": {"datum": 7.904, "scale": {"domain": [0, 10.5636], "nice": false, "zero": false}, "axis": null},
        "y2": {"datum": 8.88}
      }
    },
    {
      "data": {"values": [{"t": "2020-10-30T04:54"}]},
      "mark": {"type": "point", "shape": "M-1,2L0,0L1,2", "size": 361, "filled": false, "stroke": "#000000", "strokeWidth": 2.2, "opacity": 1},
      "encoding": {
        "x": {"field": "t", "type": "temporal", "axis": null},
        "y": {"datum": 8.904, "scale": {"domain": [0, 10.5636], "nice": false, "zero": false}, "axis": null}
      }
    },
    {
      "data": {"values": [{"t": "2020-10-30T10:39"}]},
      "mark": {"type": "text", "align": "left", "baseline": "middle", "font": "DejaVu Sans Mono", "fontSize": 20, "color": "#000000", "text": "NE up"},
      "encoding": {
        "x": {"field": "t", "type": "temporal", "axis": null},
        "y": {"datum": 8.636, "scale": {"domain": [0, 10.5636], "nice": false, "zero": false}, "axis": null}
      }
    },
    {
      "data": {"values": [{"t": "2020-10-30T10:39"}]},
      "mark": {"type": "text", "align": "left", "baseline": "middle", "font": "DejaVu Sans Mono", "fontSize": 20, "color": "#000000", "text": "1.0μradian"},
      "encoding": {
        "x": {"field": "t", "type": "temporal", "axis": null},
        "y": {"datum": 8.091, "scale": {"domain": [0, 10.5636], "nice": false, "zero": false}, "axis": null}
      }
    },
    {
      "data": {"values": [{"t": "2020-11-04T00:00"}]},
      "mark": {"type": "point", "shape": "M1,0C1,0.9886,0.5523,1.79,0,1.79C-0.5523,1.79,-1,0.9886,-1,0C-1,-0.9886,-0.5523,-1.79,0,-1.79C0.5523,-1.79,1,-0.9886,1,0Z", "size": 5776, "filled": false, "stroke": "#000000", "strokeWidth": 2.5, "strokeDash": [10, 6], "opacity": 1},
      "encoding": {
        "x": {"field": "t", "type": "temporal", "axis": null},
        "y": {"datum": 1.4, "scale": {"domain": [0, 10.5636], "nice": false, "zero": false}, "axis": null}
      }
    },
    {
      "data": {"values": [{"t": "2020-11-03T04:03"}]},
      "mark": {"type": "text", "align": "center", "baseline": "middle", "font": "Noto Sans CJK JP", "fontSize": 19.5, "lineHeight": 26, "color": "#000000", "text": ["火山活動と関係", "のない変動"]},
      "encoding": {
        "x": {"field": "t", "type": "temporal", "axis": null},
        "y": {"datum": 2.236, "scale": {"domain": [0, 10.5636], "nice": false, "zero": false}, "axis": null}
      }
    },
    {
      "data": {
        "values": [
          {"t": "2020-11-01T03:43", "t2": "2020-11-02T06:22"},
          {"t": "2020-11-04T21:27", "t2": "2020-11-05T14:05"}
        ],
        "format": {"parse": {"t": "date", "t2": "date"}}
      },
      "mark": {"type": "rect", "filled": false, "stroke": "#0000ff", "strokeWidth": 4},
      "encoding": {
        "x": {"field": "t", "type": "temporal", "axis": null},
        "x2": {"field": "t2"},
        "y": {"datum": -0.027, "scale": {"domain": [0, 10.5636], "nice": false, "zero": false}, "axis": null},
        "y2": {"datum": 10.605}
      }
    },
    {
      "data": {"values": [{"t": "2020-11-01T18:25"}]},
      "mark": {"type": "text", "align": "center", "baseline": "middle", "font": "Noto Sans CJK JP", "fontWeight": "bold", "fontSize": 20.5, "color": "#0000ff", "text": "１～２日の傾斜変動"},
      "encoding": {
        "x": {"field": "t", "type": "temporal", "axis": null},
        "y": {"datum": -0.73, "scale": {"domain": [0, 10.5636], "nice": false, "zero": false}, "axis": null}
      }
    },
    {
      "data": {"values": [{"t": "2020-11-05T01:11"}]},
      "mark": {"type": "text", "align": "center", "baseline": "middle", "font": "Noto Sans CJK JP", "fontWeight": "bold", "fontSize": 20.5, "color": "#0000ff", "text": "５日の傾斜変動"},
      "encoding": {
        "x": {"field": "t", "type": "temporal", "axis": null},
        "y": {"datum": -0.73, "scale": {"domain": [0, 10.5636], "nice": false, "zero": false}, "axis": null}
      }
    }
  ]
}
